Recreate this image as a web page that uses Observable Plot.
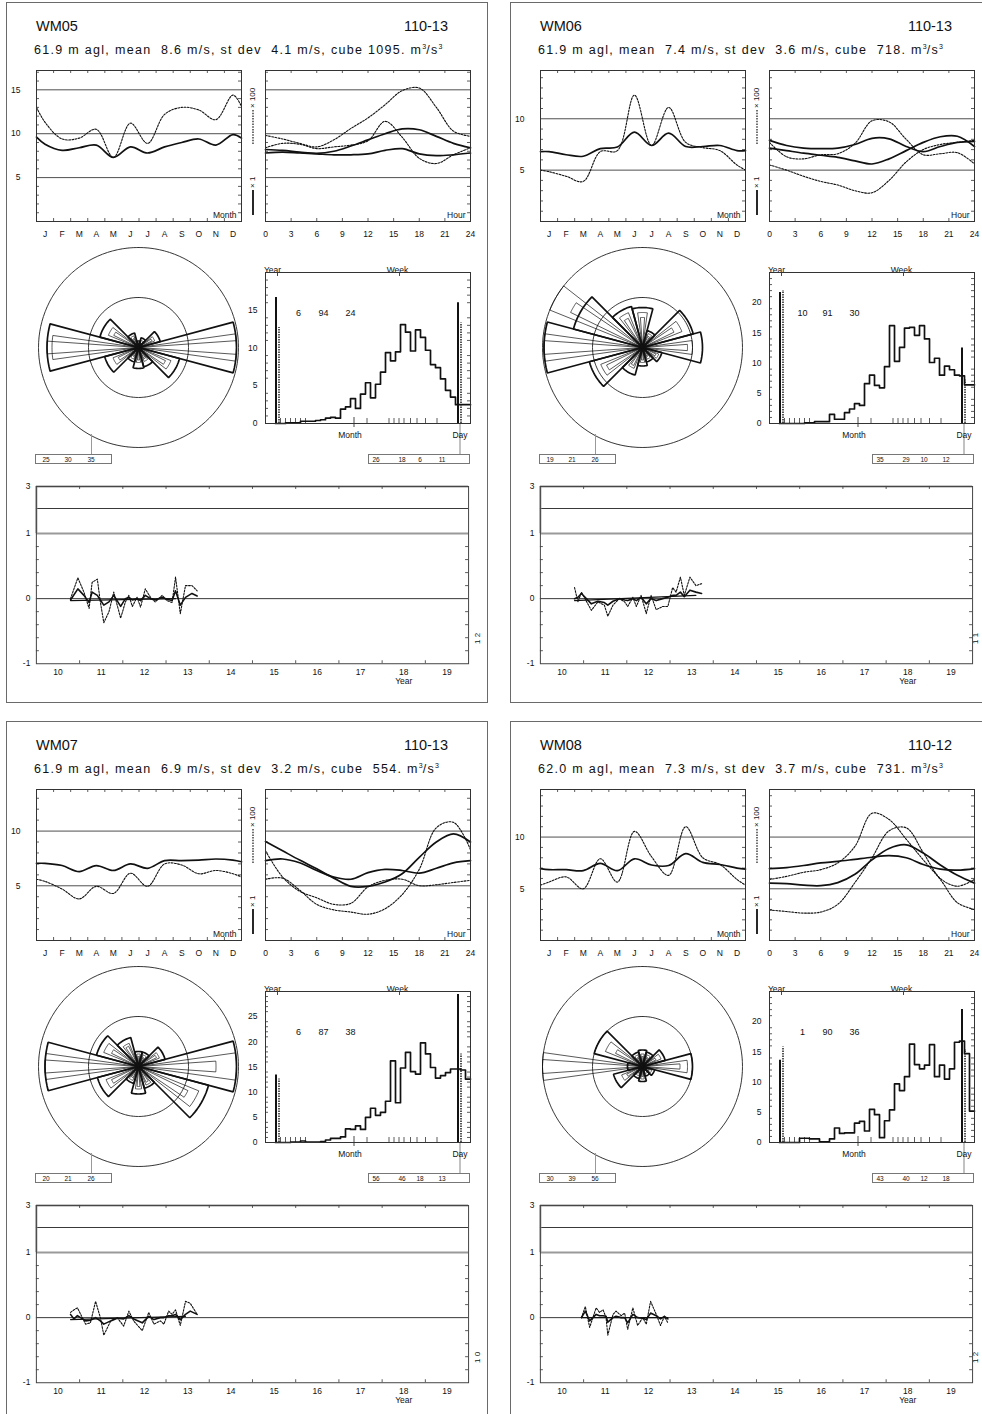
<!DOCTYPE html>
<html>
<head>
<meta charset="utf-8">
<script src="https://cdn.jsdelivr.net/npm/d3@7"></script>
<script src="https://cdn.jsdelivr.net/npm/@observablehq/plot@0.6"></script>
<style>
  html,body{margin:0;padding:0;background:#fff;}
  body{width:982px;height:1414px;overflow:hidden;position:relative;font-family:"Liberation Sans",Arial,Helvetica,sans-serif;color:#111;}
  .abs{position:absolute;}
  .border{position:absolute;left:0;top:0;width:482px;height:701px;border:1.3px solid #6a6a6a;box-sizing:border-box;}
  .title{position:absolute;font-size:14.5px;line-height:14px;white-space:pre;}
  .sub{position:absolute;font-size:12.5px;line-height:13px;letter-spacing:1.3px;white-space:pre;}
  .sub sup{font-size:7px;letter-spacing:0;}
  .box{position:absolute;border:1px solid #777;height:10px;box-sizing:border-box;font-size:6.5px;}
  .box span{position:absolute;top:1.5px;transform:translateX(-50%);line-height:1;}
  .vline{position:absolute;width:0;border-left:1.2px solid #999;}
  .rot{position:absolute;transform:rotate(-90deg);transform-origin:0 0;font-size:8px;white-space:pre;line-height:1;}
</style>
</head>
<body>
<script>
// ---------------- DATA ----------------
const stationNames = ["WM05", "WM06", "WM07", "WM08"];
const periodLabels = ["110-13", "110-13", "110-13", "110-12"];
const heightAgl = ["61.9", "61.9", "61.9", "62.0"];
const meanSpeed = ["8.6", "7.4", "6.9", "7.3"];
const stDev = ["4.1", "3.6", "3.2", "3.7"];
const cubeMean = ["1095.", "718.", "554.", "731."];

// monthly variation (x in months, 0..12; values at edges and month centres)
const monthLetters = ["J", "F", "M", "A", "M", "J", "J", "A", "S", "O", "N", "D"];
const monthCentres = [0.5, 1.5, 2.5, 3.5, 4.5, 5.5, 6.5, 7.5, 8.5, 9.5, 10.5, 11.5];
const monthPos = [0, 0.5, 1.5, 2.5, 3.5, 4.5, 5.5, 6.5, 7.5, 8.5, 9.5, 10.5, 11.5, 12];
const monthlyMean = [
  [9.6, 8.8, 8.1, 8.4, 8.7, 7.3, 8.5, 7.8, 8.5, 9.0, 9.4, 8.7, 9.9, 9.5],
  [6.8, 6.8, 6.5, 6.35, 7.1, 7.25, 8.7, 7.4, 8.6, 7.3, 7.3, 7.4, 6.9, 6.9],
  [7.05, 7.05, 6.85, 6.3, 6.85, 6.4, 7.0, 6.6, 7.3, 7.3, 7.35, 7.45, 7.35, 7.2],
  [6.95, 6.85, 6.85, 6.75, 7.45, 6.75, 7.9, 7.3, 7.25, 8.4, 7.55, 7.35, 7.0, 6.9]
];
const monthlyCube = [
  [13.0, 11.3, 9.4, 9.5, 10.5, 7.3, 11.2, 8.9, 12.2, 13.0, 12.7, 11.6, 14.4, 13.1],
  [5.0, 4.85, 4.4, 3.9, 6.8, 6.9, 12.3, 7.4, 11.1, 7.7, 7.2, 6.9, 5.5, 5.0],
  [5.6, 5.4, 4.7, 3.8, 4.95, 4.3, 6.15, 4.95, 7.0, 6.9, 6.1, 6.4, 6.1, 5.8],
  [5.35, 5.65, 6.15, 5.0, 7.9, 5.65, 10.55, 8.1, 6.3, 11.0, 8.0, 7.35, 5.9, 5.35]
];
const profileYMax = [17.2, 14.7, 13.8, 14.6];
const profileGrid = [[5, 10, 15], [5, 10], [5, 10], [5, 10]];

// diurnal variation (hours)
const hourTicks = [0, 3, 6, 9, 12, 15, 18, 21, 24];
const hourPos = [0, 2, 4, 6, 8, 10, 12, 14, 16, 18, 20, 22, 24];
const hourlyMeanA = [
  [8.2, 8.1, 7.9, 7.75, 8.0, 8.6, 9.3, 10.0, 10.55, 10.45, 9.7, 8.9, 8.4],
  [7.9, 7.4, 7.15, 7.1, 7.15, 7.5, 8.1, 8.05, 7.3, 6.8, 7.3, 7.7, 7.8],
  [9.05, 8.2, 7.35, 6.55, 5.7, 4.95, 4.95, 5.35, 6.1, 7.6, 9.0, 9.75, 9.0],
  [6.95, 7.05, 7.25, 7.5, 7.65, 7.85, 8.05, 8.2, 8.0, 7.35, 6.9, 6.8, 6.95]
];
const hourlyMeanB = [
  [7.8, 7.9, 7.8, 7.7, 7.6, 7.6, 7.7, 8.1, 8.3, 7.7, 7.5, 7.6, 7.8],
  [7.15, 6.9, 6.65, 6.45, 6.25, 5.9, 5.6, 6.1, 6.9, 7.7, 8.25, 8.3, 7.3],
  [7.3, 7.45, 7.1, 6.4, 5.8, 5.6, 6.2, 6.5, 6.4, 6.15, 6.6, 7.1, 7.3],
  [5.55, 5.5, 5.35, 5.3, 5.6, 6.4, 7.8, 8.9, 9.25, 8.45, 7.3, 6.3, 5.55]
];
const hourlyCubeA = [
  [9.8, 9.4, 8.9, 8.5, 9.3, 10.6, 11.8, 13.3, 14.9, 15.2, 13.0, 10.3, 9.7],
  [7.7, 6.3, 6.1, 6.5, 6.6, 7.6, 9.8, 9.7, 8.0, 6.5, 6.6, 6.7, 5.6],
  [8.2, 5.8, 4.5, 3.9, 3.3, 3.4, 4.9, 5.5, 5.6, 5.0, 5.1, 5.3, 5.5],
  [5.9, 6.2, 6.6, 6.85, 7.5, 9.1, 12.3, 11.7, 9.8, 7.8, 5.9, 3.65, 3.0]
];
const hourlyCubeB = [
  [8.4, 8.9, 8.8, 8.3, 8.5, 8.7, 9.2, 11.4, 9.6, 7.2, 6.6, 7.6, 8.4],
  [5.5, 5.0, 4.4, 3.9, 3.55, 3.0, 2.8, 4.0, 5.8, 7.0, 7.5, 7.7, 7.9],
  [5.6, 5.7, 4.6, 3.3, 2.8, 2.6, 2.4, 2.9, 4.2, 6.5, 10.3, 10.8, 8.3],
  [2.95, 2.8, 2.65, 2.75, 3.5, 5.6, 8.0, 10.6, 10.9, 8.5, 6.0, 5.25, 5.9]
];

// wind rose: 12 sectors
const roseDirs = [0, 30, 60, 90, 120, 150, 180, 210, 240, 270, 300, 330];
const roseFreq = [
  [0.13, 0.2, 0.45, 1.96, 0.85, 0.4, 0.42, 0.3, 0.7, 1.83, 0.8, 0.3],
  [0.8, 0.35, 1.05, 1.2, 0.4, 0.3, 0.37, 0.57, 1.1, 1.97, 1.43, 0.85],
  [0.3, 0.3, 0.55, 1.96, 1.45, 0.45, 0.55, 0.35, 0.85, 1.87, 0.87, 0.6],
  [0.33, 0.3, 0.47, 1.0, 0.25, 0.2, 0.3, 0.25, 0.6, 0.3, 1.0, 0.3]
];
const roseMid = [
  [0.1, 0.15, 0.35, 1.96, 0.7, 0.3, 0.3, 0.25, 0.55, 1.73, 0.65, 0.25],
  [0.7, 0.3, 0.85, 1.0, 0.35, 0.25, 0.3, 0.45, 0.9, 1.97, 2.0, 0.75],
  [0.25, 0.25, 0.45, 1.96, 1.3, 0.4, 0.45, 0.3, 0.7, 1.87, 0.75, 0.5],
  [0.25, 0.25, 0.4, 0.9, 0.2, 0.15, 0.25, 0.2, 0.45, 2.0, 0.8, 0.25]
];
const roseNarrow = [
  [0.08, 0.1, 0.3, 1.96, 0.6, 0.25, 0.25, 0.2, 0.45, 1.83, 0.55, 0.2],
  [0.6, 0.25, 0.7, 0.9, 0.3, 0.2, 0.25, 0.4, 0.8, 1.97, 1.6, 0.65],
  [0.2, 0.2, 0.4, 1.55, 1.1, 0.35, 0.4, 0.25, 0.6, 1.87, 0.6, 0.45],
  [0.2, 0.2, 0.3, 0.75, 0.15, 0.1, 0.2, 0.15, 0.35, 2.0, 0.6, 0.2]
];
const roseCircles = [1, 2];
const roseLegend = [["25", "30", "35"], ["19", "21", "26"], ["20", "21", "26"], ["30", "39", "56"]];

// histogram of the distribution (39 bins)
const histWeek = [
  [0, 0, 0.1, 0.1, 0.1, 0.3, 0.3, 0.3, 0.4, 0.5, 0.7, 0.8, 0.7, 1.9, 2.2, 3.3, 2.0, 3.9, 5.4, 3.4, 5.2, 6.8, 9.4, 8.3, 9.5, 13.1, 12.1, 9.6, 12.4, 11.4, 9.7, 7.8, 7.4, 5.9, 4.4, 3.5, 2.5, 2.5, 2.5],
  [0, 0, 0, 0, 0, 0.1, 0.1, 0.3, 0.3, 0.3, 1.5, 0.7, 0.7, 1.8, 2.4, 3.3, 3.0, 6.6, 8.0, 6.3, 5.9, 9.4, 16.2, 10.3, 12.6, 15.8, 15.9, 14.6, 16.2, 14.0, 10.1, 10.8, 8.0, 9.5, 8.9, 8.0, 7.9, 6.4, 6.4],
  [0, 0, 0, 0.1, 0.1, 0.3, 0.1, 0.1, 0.1, 0.2, 0.5, 0.8, 0.8, 1.1, 2.7, 2.6, 3.3, 2.6, 5.0, 6.8, 5.4, 6.0, 8.2, 16.2, 7.9, 14.8, 17.9, 14.1, 13.6, 19.8, 17.6, 14.9, 12.8, 13.3, 13.9, 14.6, 14.6, 14.4, 12.6],
  [0, 0, 0, 0, 0.7, 0.7, 0.6, 0.6, 0.1, 0.1, 0.6, 2.4, 1.5, 1.6, 1.6, 3.2, 3.5, 1.9, 5.5, 4.6, 0.8, 3.6, 5.4, 9.7, 8.6, 10.9, 16.3, 12.9, 12.2, 12.8, 16.2, 10.9, 12.8, 10.5, 12.2, 16.6, 16.8, 14.7, 5.2]
];
const histYMax = [20, 25, 30, 25];
const histYTicks = [[0, 5, 10, 15], [0, 5, 10, 15, 20], [0, 5, 10, 15, 20, 25], [0, 5, 10, 15, 20]];
const yearBars = [[16.7, 12.7], [21.7, 22.0], [13.4, 12.6], [13.6, 15.8]];
const dayBars = [[16.0, 13.3], [12.5, 7.2], [29.4, 17.6], [22.0, 15.4]];
const histCounts = [["6", "94", "24"], ["10", "91", "30"], ["6", "87", "38"], ["1", "90", "36"]];
const histLegend = [["26", "18", "6", "11"], ["35", "29", "10", "12"], ["56", "46", "18", "13"], ["43", "40", "12", "18"]];
const histMinorTicks = [1, 2, 3, 4, 5, 6, 18.3, 22.7, 23.7, 24.7, 25.7, 27, 28.3, 30, 32.3];
const histMarks = {year: 0.1, yearDot: 0.7, day: 36.5, dayDot: 37.1, month: 15.7, week: 24.8, dayTick: 36.9, counts: [4.6, 9.6, 15]};

// long-term index series
const yearLabels = [10, 11, 12, 13, 14, 15, 16, 17, 18, 19];
const tsYTickValues = [-1, 0, 1, 3];
const tsYears = [
  [2010.79, 2010.96, 2011.10, 2011.22, 2011.29, 2011.41, 2011.48, 2011.56, 2011.68, 2011.79, 2011.95, 2012.06, 2012.14, 2012.22, 2012.33, 2012.41, 2012.52, 2012.64, 2012.75, 2012.91, 2013.02, 2013.14, 2013.22, 2013.33, 2013.45, 2013.60, 2013.72],
  [2010.79, 2010.87, 2010.95, 2011.18, 2011.33, 2011.48, 2011.56, 2011.68, 2011.83, 2011.95, 2012.02, 2012.14, 2012.22, 2012.33, 2012.45, 2012.56, 2012.68, 2012.83, 2012.95, 2013.06, 2013.14, 2013.24, 2013.33, 2013.46, 2013.60, 2013.73],
  [2010.79, 2010.87, 2010.95, 2011.14, 2011.25, 2011.37, 2011.48, 2011.56, 2011.72, 2011.87, 2012.02, 2012.14, 2012.25, 2012.45, 2012.60, 2012.72, 2012.87, 2012.95, 2013.06, 2013.14, 2013.22, 2013.33, 2013.45, 2013.56, 2013.72],
  [2010.95, 2011.04, 2011.14, 2011.29, 2011.37, 2011.45, 2011.52, 2011.56, 2011.68, 2011.75, 2011.87, 2011.95, 2012.02, 2012.14, 2012.25, 2012.37, 2012.45, 2012.55, 2012.68, 2012.78, 2012.87, 2012.95]
];
const tsCube = [
  [0.0, 0.32, 0.1, -0.15, 0.25, 0.3, -0.05, -0.37, -0.2, 0.1, -0.3, -0.05, 0.05, -0.12, 0.02, -0.13, 0.15, 0.02, -0.05, 0.05, -0.03, -0.06, 0.33, -0.23, 0.2, 0.2, 0.12],
  [0.17, -0.05, 0.1, -0.18, -0.05, -0.1, -0.27, -0.1, 0.0, -0.05, -0.12, 0.02, -0.12, 0.05, -0.23, 0.05, -0.17, -0.12, -0.12, 0.17, 0.1, 0.33, 0.05, 0.33, 0.2, 0.23],
  [0.08, 0.12, 0.15, -0.1, -0.08, 0.25, 0.0, -0.27, -0.05, 0.0, -0.13, 0.1, -0.05, -0.2, 0.08, -0.1, -0.05, -0.1, 0.1, 0.05, 0.12, -0.12, 0.25, 0.22, 0.05],
  [0.0, 0.17, -0.15, 0.15, 0.08, 0.12, 0.0, -0.27, 0.05, 0.1, 0.03, 0.07, -0.18, 0.15, -0.12, 0.0, -0.1, 0.25, 0.05, -0.12, 0.02, -0.08]
];
const tsMean = [
  [-0.02, 0.15, 0.05, -0.06, 0.1, 0.05, -0.02, -0.1, -0.05, 0.05, -0.12, 0.0, 0.02, -0.02, 0.0, -0.03, 0.05, 0.0, -0.02, 0.02, -0.01, -0.03, 0.12, -0.1, 0.02, 0.08, 0.04],
  [0.0, 0.02, 0.08, -0.08, -0.04, -0.06, -0.1, -0.04, 0.0, -0.02, -0.03, 0.0, -0.03, 0.02, -0.08, 0.0, -0.03, 0.0, 0.02, 0.05, 0.05, 0.1, 0.03, 0.13, 0.1, 0.08],
  [0.05, -0.02, 0.03, -0.05, -0.04, 0.0, -0.05, -0.1, -0.05, -0.01, -0.02, 0.03, -0.02, -0.08, 0.02, -0.03, 0.0, 0.0, 0.03, 0.03, 0.05, -0.03, 0.05, 0.1, 0.05],
  [0.0, 0.1, -0.05, 0.05, 0.03, 0.03, 0.02, -0.07, 0.0, 0.02, 0.0, 0.0, -0.08, 0.05, 0.0, -0.01, -0.03, 0.07, 0.03, -0.02, 0.02, -0.02]
];
const tsTrend = [
  [[2010.79, -0.03], [2013.22, 0.0]],
  [[2010.79, -0.03], [2013.60, 0.05]],
  [[2010.79, -0.03], [2013.45, 0.02]],
  [[2010.95, 0.0], [2012.95, 0.0]]
];
const sideText = ["1 2", "1 1", "1 0", "1 2"];

// ---------------- LAYOUT / DRAWING ----------------
const FONT = '"Liberation Sans", Arial, Helvetica, sans-serif';
const INK = "#111";
const DASH = "1.8,1.4";
const panelOrigins = [[6, 2], [510, 2], [6, 721], [510, 721]];

function el(tag, cls, parent) { const e = document.createElement(tag); if (cls) e.className = cls; if (parent) parent.appendChild(e); return e; }
function put(node, parent, x, y) { const d = el("div", "abs", parent); d.style.left = x + "px"; d.style.top = y + "px"; d.appendChild(node); return d; }
function style(fs) { return {fontFamily: FONT, fontSize: fs + "px", background: "transparent", overflow: "visible", color: INK}; }

function profileChart(s, kind) {
  const fw = 205, fh = 151, mL = 40, mR = 6, mT = 6, mB = 24;
  const ymax = profileYMax[s];
  const isMonth = kind === "month";
  const xmax = isMonth ? 12 : 24;
  const pxX = fw / xmax, pxY = fh / ymax, T = 3;
  const pos = isMonth ? monthPos : hourPos;
  const series = isMonth
    ? [[monthlyMean[s], false], [monthlyCube[s], true]]
    : [[hourlyMeanA[s], false], [hourlyMeanB[s], false], [hourlyCubeA[s], true], [hourlyCubeB[s], true]];
  const minor = d3.range(1, Math.floor(ymax) + 1).filter(v => !profileGrid[s].includes(v));
  const bounds = isMonth ? d3.range(1, 12) : [3, 6, 9, 12, 15, 18, 21];
  const marks = [
    Plot.ruleY(profileGrid[s], {stroke: "#222", strokeWidth: 0.8}),
    Plot.ruleY(minor, {x1: 0, x2: T / pxX, stroke: "#333", strokeWidth: 0.8}),
    Plot.ruleY(minor, {x1: xmax - T / pxX, x2: xmax, stroke: "#333", strokeWidth: 0.8}),
    Plot.ruleX(bounds, {y1: ymax, y2: ymax - T / pxY, stroke: "#333", strokeWidth: 0.8}),
    Plot.ruleX(bounds, {y1: 0, y2: T / pxY, stroke: "#333", strokeWidth: 0.8})
  ];
  series.forEach(([vals, dotted]) => {
    marks.push(Plot.line(pos.map((x, j) => ({x, y: vals[j]})), {
      x: "x", y: "y", curve: "catmull-rom", stroke: INK,
      strokeWidth: dotted ? 1.1 : 1.7, strokeDasharray: dotted ? DASH : null
    }));
  });
  marks.push(Plot.text([isMonth ? "Month" : "Hour"], {frameAnchor: "bottom-right", dx: -5, dy: -4, fontSize: 8.5}));
  marks.push(Plot.frame({stroke: "#333", strokeWidth: 1}));
  const node = Plot.plot({
    width: fw + mL + mR, height: fh + mT + mB,
    marginLeft: mL, marginRight: mR, marginTop: mT, marginBottom: mB,
    style: style(8.5),
    x: isMonth
      ? {domain: [0, 12], ticks: monthCentres, tickFormat: d => monthLetters[Math.floor(d)], tickSize: 0, tickPadding: 9, label: null}
      : {domain: [0, 24], ticks: hourTicks, tickFormat: d => String(d), tickSize: 0, tickPadding: 9, label: null},
    y: isMonth
      ? {domain: [0, ymax], ticks: profileGrid[s], tickSize: 0, tickPadding: 16, label: null}
      : {domain: [0, ymax], axis: null},
    marks
  });
  return {node, left: (isMonth ? 30 : 259) - mL, top: 68 - mT};
}

function wedge(az, r, hw, id) {
  const pts = [{id, x: 0, y: 0}];
  const n = 10;
  for (let k = 0; k <= n; k++) {
    const a = (az - hw + 2 * hw * k / n) * Math.PI / 180;
    pts.push({id, x: r * Math.sin(a), y: r * Math.cos(a)});
  }
  pts.push({id, x: 0, y: 0});
  return pts;
}

function roseChart(s) {
  const ext = 2.1, px = 50;
  const circ = [];
  roseCircles.forEach((r, ci) => {
    for (let k = 0; k <= 120; k++) { const a = k / 120 * 2 * Math.PI; circ.push({id: ci, x: r * Math.sin(a), y: r * Math.cos(a)}); }
  });
  const thick = [], thin = [];
  roseDirs.forEach((az, i) => {
    thick.push(...wedge(az, roseFreq[s][i], 15, "f" + i));
    thin.push(...wedge(az, roseMid[s][i], 8, "m" + i));
    thin.push(...wedge(az, roseNarrow[s][i], 4, "n" + i));
  });
  const node = Plot.plot({
    width: 2 * ext * px, height: 2 * ext * px, margin: 0,
    style: style(8),
    x: {domain: [-ext, ext], axis: null},
    y: {domain: [-ext, ext], axis: null},
    marks: [
      Plot.line(circ, {x: "x", y: "y", z: "id", stroke: "#222", strokeWidth: 0.9, strokeDasharray: "2,0.6"}),
      Plot.line(thin, {x: "x", y: "y", z: "id", stroke: INK, strokeWidth: 0.7}),
      Plot.line(thick, {x: "x", y: "y", z: "id", stroke: INK, strokeWidth: 1.7, strokeLinejoin: "miter"})
    ]
  });
  return {node, left: 132 - ext * px, top: 345 - ext * px};
}

function histChart(s) {
  const fw = 205, fh = 151, mL = 30, mR = 6, mT = 16, mB = 24;
  const hmax = histYMax[s];
  const xmin = -2, xmax = 39;
  const pxX = fw / (xmax - xmin), pxY = fh / hmax, T = 3;
  const vals = histWeek[s];
  const steps = vals.map((v, k) => ({x: k, y: v}));
  steps.push({x: vals.length, y: vals[vals.length - 1]});
  const minorY = d3.range(1, hmax).filter(v => !histYTicks[s].includes(v));
  const node = Plot.plot({
    width: fw + mL + mR, height: fh + mT + mB,
    marginLeft: mL, marginRight: mR, marginTop: mT, marginBottom: mB,
    style: style(8.5),
    x: {domain: [xmin, xmax], axis: null},
    y: {domain: [0, hmax], ticks: histYTicks[s], tickSize: 0, tickPadding: 8, label: null},
    marks: [
      Plot.ruleY(minorY, {x1: xmin, x2: xmin + T / pxX, stroke: "#333", strokeWidth: 0.8}),
      Plot.ruleY(minorY, {x1: xmax - T / pxX, x2: xmax, stroke: "#333", strokeWidth: 0.8}),
      Plot.ruleX(histMinorTicks, {y1: 0, y2: 5 / pxY, stroke: "#333", strokeWidth: 0.8}),
      Plot.ruleX([histMarks.month], {y1: -4 / pxY, y2: 6 / pxY, stroke: "#333", strokeWidth: 0.9}),
      Plot.ruleX([histMarks.week, histMarks.year + 0.3], {y1: hmax, y2: hmax - 4 / pxY, stroke: "#333", strokeWidth: 0.9}),
      Plot.ruleX([histMarks.dayTick], {y1: 0, y2: -32 / pxY, stroke: "#999", strokeWidth: 1.2}),
      Plot.line(steps, {x: "x", y: "y", curve: "step-after", stroke: INK, strokeWidth: 1.7}),
      Plot.ruleX([histMarks.year], {y1: 0, y2: yearBars[s][0], stroke: INK, strokeWidth: 2}),
      Plot.ruleX([histMarks.yearDot], {y1: 0, y2: yearBars[s][1], stroke: INK, strokeWidth: 1.4, strokeDasharray: "1.5,1"}),
      Plot.ruleX([histMarks.day], {y1: 0, y2: dayBars[s][0], stroke: INK, strokeWidth: 2}),
      Plot.ruleX([histMarks.dayDot], {y1: 0, y2: dayBars[s][1], stroke: INK, strokeWidth: 1.4, strokeDasharray: "1.5,1"}),
      Plot.text(histCounts[s], {x: (d, i) => histMarks.counts[i], frameAnchor: "top", dy: 37, fontSize: 9}),
      Plot.text(["Year"], {x: [-0.6], frameAnchor: "top", dy: -6, fontSize: 8.5}),
      Plot.text(["Week"], {x: [24.4], frameAnchor: "top", dy: -6, fontSize: 8.5}),
      Plot.text(["Month"], {x: [histMarks.month - 0.8], frameAnchor: "bottom", dy: 14, fontSize: 8.5}),
      Plot.text(["Day"], {x: [histMarks.dayTick], frameAnchor: "bottom", dy: 14, fontSize: 8.5}),
      Plot.frame({stroke: "#333", strokeWidth: 1})
    ]
  });
  return {node, left: 259 - mL, top: 270 - mT};
}

// the index axis is linear from -1 to 1 and compressed above 1 (1..2 and 2..3)
const K12 = 25 / 65, K23 = 22 / 65;
function tsU(v) { return v <= 1 ? v : v <= 2 ? 1 + (v - 1) * K12 : 1 + K12 + (v - 2) * K23; }
function tsInv(u) { return u <= 1 ? u : u <= 1 + K12 ? 1 + (u - 1) / K12 : 2 + (u - 1 - K12) / K23; }

function tsChart(s) {
  const fw = 434, fh = 178, mL = 30, mR = 20, mT = 6, mB = 30;
  const pxX = fw / 10, pxY = fh / (tsU(3) + 1), T = 3;
  const minorY = [-0.8, -0.6, -0.4, -0.2, 0.2, 0.4, 0.6, 0.8];
  const bounds = [2011, 2012, 2013, 2014, 2015, 2016, 2017, 2018, 2019];
  const yrs = tsYears[s];
  const top = tsU(3);
  const node = Plot.plot({
    width: fw + mL + mR, height: fh + mT + mB,
    marginLeft: mL, marginRight: mR, marginTop: mT, marginBottom: mB,
    style: style(8.5),
    x: {domain: [2010, 2020], ticks: yearLabels.map(v => 2000 + v + 0.5), tickFormat: d => String(Math.floor(d) - 2000), tickSize: 0, tickPadding: 5, label: null},
    y: {domain: [-1, top], ticks: tsYTickValues.map(tsU), tickFormat: d => String(Math.round(tsInv(d))), tickSize: 0, tickPadding: 6, label: null},
    marks: [
      Plot.ruleY([0, 2].map(tsU), {stroke: "#222", strokeWidth: 0.9}),
      Plot.ruleY([1, 3].map(tsU), {stroke: "#9a9a9a", strokeWidth: 2}),
      Plot.ruleX([2010], {y1: 1, y2: top, stroke: "#9a9a9a", strokeWidth: 2}),
      Plot.ruleY(minorY, {x1: 2010, x2: 2010 + T / pxX, stroke: "#333", strokeWidth: 0.8}),
      Plot.ruleY(minorY, {x1: 2020 - T / pxX, x2: 2020, stroke: "#333", strokeWidth: 0.8}),
      Plot.ruleX(bounds, {y1: top, y2: top - T / pxY, stroke: "#333", strokeWidth: 0.8}),
      Plot.ruleX(bounds, {y1: -1, y2: -1 + T / pxY, stroke: "#333", strokeWidth: 0.8}),
      Plot.line(tsTrend[s].map(([x, y]) => ({x, y: tsU(y)})), {x: "x", y: "y", stroke: INK, strokeWidth: 1.1}),
      Plot.line(yrs.map((x, j) => ({x, y: tsU(tsCube[s][j])})), {x: "x", y: "y", stroke: INK, strokeWidth: 1.1, strokeDasharray: DASH}),
      Plot.line(yrs.map((x, j) => ({x, y: tsU(tsMean[s][j])})), {x: "x", y: "y", stroke: INK, strokeWidth: 1.6}),
      Plot.text(["Year"], {x: [2018.5], frameAnchor: "bottom", dy: 20, fontSize: 8.5}),
      Plot.frame({stroke: "#444", strokeWidth: 1})
    ]
  });
  return {node, left: 30 - mL, top: 484 - mT};
}

function legendKeys(parent) {
  const svg = d3.create("svg").attr("width", 12).attr("height", 140).style("overflow", "visible");
  svg.append("line").attr("x1", 6).attr("x2", 6).attr("y1", 22).attr("y2", 57).attr("stroke", INK).attr("stroke-width", 1.2).attr("stroke-dasharray", "1.5,1.2");
  svg.append("line").attr("x1", 6).attr("x2", 6).attr("y1", 102).attr("y2", 127).attr("stroke", INK).attr("stroke-width", 1.8);
  put(svg.node(), parent, 241, 86);
  const t1 = el("div", "rot", parent); t1.textContent = "× 100"; t1.style.left = "243px"; t1.style.top = "106px";
  const t2 = el("div", "rot", parent); t2.textContent = "× 1"; t2.style.left = "243px"; t2.style.top = "186px";
}

function box(parent, x, y, w, labels, xs) {
  const b = el("div", "box", parent);
  b.style.left = x + "px"; b.style.top = y + "px"; b.style.width = w + "px";
  labels.forEach((t, i) => { const sp = el("span", null, b); sp.textContent = t; sp.style.left = xs[i] + "px"; });
}

stationNames.forEach((name, s) => {
  const [L, T] = panelOrigins[s];
  const c = el("div", "abs", document.body);
  c.style.left = L + "px"; c.style.top = T + "px"; c.style.width = "482px"; c.style.height = "701px";
  el("div", "border", c);

  const t = el("div", "title", c); t.textContent = name; t.style.left = "30px"; t.style.top = "17px";
  const r = el("div", "title", c); r.textContent = periodLabels[s]; r.style.right = "40px"; r.style.top = "17px";
  const sub = el("div", "sub", c);
  sub.innerHTML = `${heightAgl[s]} m agl, mean  ${meanSpeed[s]} m/s, st dev  ${stDev[s]} m/s, cube ${cubeMean[s].padStart(5, " ")} m<sup>3</sup>/s<sup>3</sup>`;
  sub.style.left = "28px"; sub.style.top = "38px";

  [profileChart(s, "month"), profileChart(s, "hour"), roseChart(s), histChart(s), tsChart(s)].forEach(ch => put(ch.node, c, ch.left, ch.top));
  legendKeys(c);

  // rose legend
  const v1 = el("div", "vline", c); v1.style.left = "85px"; v1.style.top = "432px"; v1.style.height = "21px";
  box(c, 29, 452, 77, roseLegend[s], [10, 32, 55]);
  // histogram legend
  box(c, 362, 452, 102, histLegend[s], [7, 33, 51, 73]);

  const st = el("div", "rot", c); st.textContent = sideText[s];
  st.style.left = (L + 472 > 975 ? 462 : 468) + "px"; st.style.top = "642px";
});
</script>
</body>
</html>
